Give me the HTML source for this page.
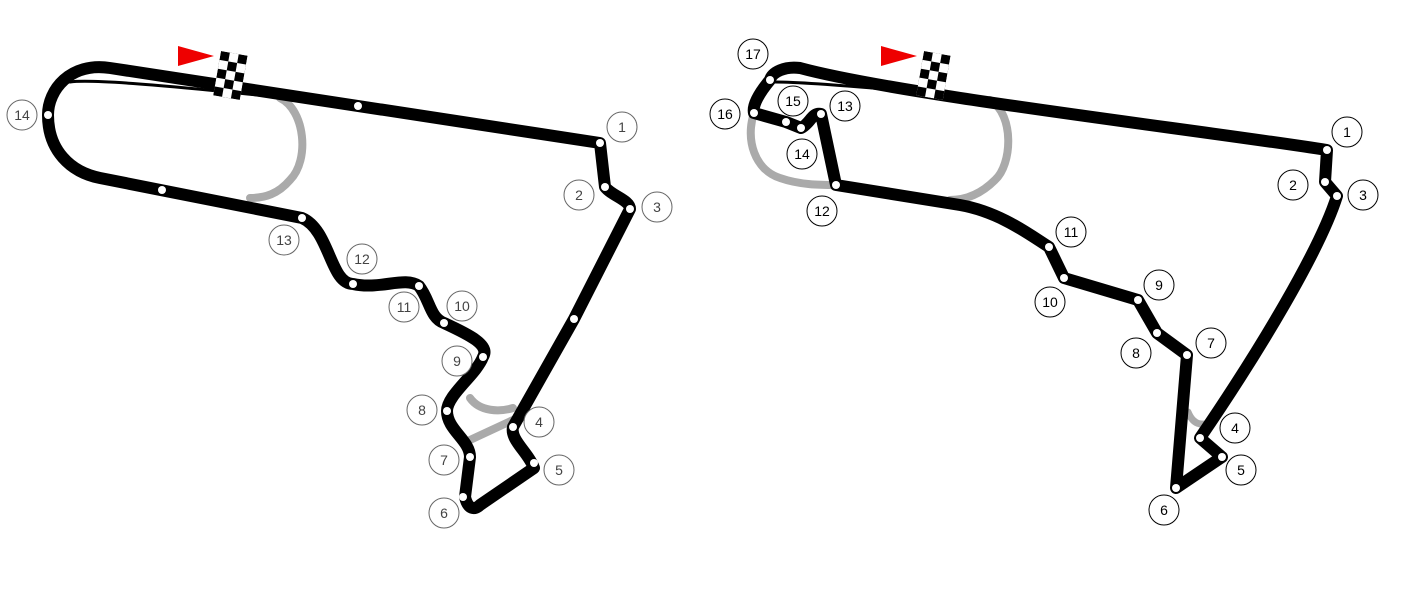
<!DOCTYPE html>
<html><head><style>body{margin:0;background:#fff}svg{display:block}text{font-family:"Liberation Sans",sans-serif;font-size:14px;text-anchor:middle;dominant-baseline:central}</style></head>
<body>
<svg width="1421" height="600" viewBox="0 0 1421 600">
<defs>
<pattern id="ck" width="18" height="18" patternUnits="userSpaceOnUse">
<rect width="18" height="18" fill="#fff"/><rect width="9" height="9" fill="#000"/><rect x="9" y="9" width="9" height="9" fill="#000"/>
</pattern>
</defs>
<g fill="none" stroke-linecap="round" stroke-linejoin="round">
<path d="M280 98 C305 110 310 160 290 180 C278 194 265 198 250 198" stroke="#aaa" stroke-width="8"/>
<path d="M470 398 C480 412 500 412 513 408 M513 420 L470 440" stroke="#aaa" stroke-width="8"/>
<path d="M600 143 L110 68 C70 62 48 90 48 115 C48 150 70 172 100 178 L302 218 C330 230 330 284 353 284 C380 290 405 276 419 286 C430 300 430 318 444 323 C470 335 490 345 483 357 C476 375 447 395 447 411 C447 430 470 440 470 457 L465 497 C468 510 475 510 480 505 L534 468 C528 452 510 440 513 427 L574 319 L630 209 C630 200 612 196 605 187 L600 143 Z" stroke="#000" stroke-width="12"/>
<path d="M70 82 C100 78 230 92 285 98" stroke="#000" stroke-width="3"/>
<path d="M990 100 C1015 115 1012 165 995 180 C980 195 965 200 950 200" stroke="#aaa" stroke-width="8"/>
<path d="M754 113 C745 140 755 170 780 178 C800 185 820 185 836 185" stroke="#aaa" stroke-width="8"/>
<path d="M1188 412 C1192 422 1198 425 1205 424" stroke="#aaa" stroke-width="7"/>
<path d="M1327 150 C1200 130 900 95 800 68 C785 66 772 72 770 80 C760 92 752 105 754 113 L786 122 L801 128 C810 124 812 112 821 114 L836 185 L960 205 C1000 212 1030 235 1049 247 L1064 278 L1138 300 L1157 333 L1187 355 L1176 488 L1222 457 L1200 438 C1260 350 1320 250 1337 196 L1325 182 Z" stroke="#000" stroke-width="12"/>
<path d="M775 82 C820 82 950 95 1000 100" stroke="#000" stroke-width="3"/>
</g>
<polygon points="178,46 214,56 178,66" fill="#e00"/>
<polygon points="881,46 917,56 881,66" fill="#e00"/>
<rect x="0" y="0" width="27" height="45" fill="url(#ck)" transform="translate(221,51) rotate(10)"/>
<rect x="0" y="0" width="27" height="45" fill="url(#ck)" transform="translate(924,51) rotate(10)"/>
<g fill="#fff">
<circle cx="600" cy="143" r="4"/><circle cx="605" cy="187" r="4"/><circle cx="630" cy="209" r="4"/><circle cx="574" cy="319" r="4"/><circle cx="513" cy="427" r="4"/><circle cx="534" cy="463" r="4"/><circle cx="463" cy="497" r="4"/><circle cx="470" cy="457" r="4"/><circle cx="447" cy="411" r="4"/><circle cx="483" cy="357" r="4"/><circle cx="444" cy="323" r="4"/><circle cx="419" cy="286" r="4"/><circle cx="353" cy="284" r="4"/><circle cx="302" cy="218" r="4"/><circle cx="162" cy="190" r="4"/><circle cx="48" cy="115" r="4"/><circle cx="358" cy="106" r="4"/>
<circle cx="1327" cy="150" r="4"/><circle cx="1325" cy="182" r="4"/><circle cx="1337" cy="196" r="4"/><circle cx="1200" cy="438" r="4"/><circle cx="1222" cy="457" r="4"/><circle cx="1176" cy="488" r="4"/><circle cx="1187" cy="355" r="4"/><circle cx="1157" cy="333" r="4"/><circle cx="1138" cy="300" r="4"/><circle cx="1064" cy="278" r="4"/><circle cx="1049" cy="247" r="4"/><circle cx="836" cy="185" r="4"/><circle cx="821" cy="114" r="4"/><circle cx="801" cy="128" r="4"/><circle cx="786" cy="122" r="4"/><circle cx="754" cy="113" r="4"/><circle cx="770" cy="80" r="4"/>
</g>
<g fill="#fff" stroke="#666" stroke-width="1">
<circle cx="622" cy="127" r="15"/><circle cx="579" cy="195" r="15"/><circle cx="657" cy="207" r="15"/><circle cx="539" cy="422" r="15"/><circle cx="559" cy="470" r="15"/><circle cx="444" cy="513" r="15"/><circle cx="444" cy="460" r="15"/><circle cx="422" cy="410" r="15"/><circle cx="457" cy="361" r="15"/><circle cx="462" cy="306" r="15"/><circle cx="404" cy="307" r="15"/><circle cx="362" cy="259" r="15"/><circle cx="284" cy="240" r="15"/><circle cx="22" cy="115" r="15"/>
</g>
<g fill="#444">
<text x="622" y="127">1</text><text x="579" y="195">2</text><text x="657" y="207">3</text><text x="539" y="422">4</text><text x="559" y="470">5</text><text x="444" y="513">6</text><text x="444" y="460">7</text><text x="422" y="410">8</text><text x="457" y="361">9</text><text x="462" y="306">10</text><text x="404" y="307">11</text><text x="362" y="259">12</text><text x="284" y="240">13</text><text x="22" y="115">14</text>
</g>
<g fill="#fff" stroke="#000" stroke-width="1">
<circle cx="1347" cy="132" r="15"/><circle cx="1293" cy="185" r="15"/><circle cx="1363" cy="195" r="15"/><circle cx="1235" cy="428" r="15"/><circle cx="1241" cy="470" r="15"/><circle cx="1164" cy="510" r="15"/><circle cx="1211" cy="343" r="15"/><circle cx="1136" cy="353" r="15"/><circle cx="1159" cy="285" r="15"/><circle cx="1050" cy="302" r="15"/><circle cx="1071" cy="232" r="15"/><circle cx="822" cy="211" r="15"/><circle cx="845" cy="106" r="15"/><circle cx="802" cy="154" r="15"/><circle cx="793" cy="101" r="15"/><circle cx="725" cy="114" r="15"/><circle cx="753" cy="54" r="15"/>
</g>
<g fill="#000">
<text x="1347" y="132">1</text><text x="1293" y="185">2</text><text x="1363" y="195">3</text><text x="1235" y="428">4</text><text x="1241" y="470">5</text><text x="1164" y="510">6</text><text x="1211" y="343">7</text><text x="1136" y="353">8</text><text x="1159" y="285">9</text><text x="1050" y="302">10</text><text x="1071" y="232">11</text><text x="822" y="211">12</text><text x="845" y="106">13</text><text x="802" y="154">14</text><text x="793" y="101">15</text><text x="725" y="114">16</text><text x="753" y="54">17</text>
</g>
</svg>
</body></html>
